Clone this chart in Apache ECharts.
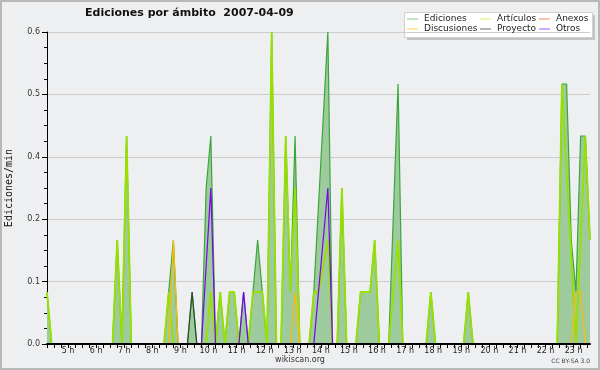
<!DOCTYPE html>
<html><head><meta charset="utf-8">
<script src="https://cdn.jsdelivr.net/npm/echarts@6/dist/echarts.min.js"></script>
<style>html,body{margin:0;padding:0;background:#eeeff1}#c{width:600px;height:370px}</style>
</head><body><div id="c"></div>
<script>
// 10-minute bins starting 04:15 (hours as decimals)
const startHour = 4.25;
const binCount = 117;
const times = [];
for (let i = 0; i < binCount; i++) times.push(startHour + i / 6);

const hourLabels = [5,6,7,8,9,10,11,12,13,14,15,16,17,18,19,20,21,22,23];
const yTickLabels = ['0.0','0.1','0.2','0.4','0.5','0.6'];

// values in edits/min, index = bin; null = no sample (line joins neighbours)
const ediciones = [
 0.1,0,0,0,0,0,0,0,0,0,           // 0-9
 0,0,0,0,0,0.2,0,0.4,0,0,         // 10-19
 0,0,0,0,0,0,0.1,0.2,0,0,         // 20-29
 0,0.1,0,0,0.3,0.4,0,0.1,0,0.1,   // 30-39
 0.1,0,0.1,0,0.1,0.2,0.1,0,0.6,0, // 40-49
 0,0.4,0.1,0.4,0,0,0,0.1,null,null, // 50-59
 0.6,0,0,0.3,0,0,0,0.1,0.1,0.1,   // 60-69
 0.2,0,0,0,null,0.5,0,0,0,0,      // 70-79
 0,0,0.1,0,0,0,0,0,0,0,           // 80-89
 0.1,0,0,0,0,0,0,0,0,0,           // 90-99
 0,0,0,0,0,0,0,0,0,0,             // 100-109
 0.5,0.5,0.2,0.1,0.4,0.4,0.2      // 110-116
];
const articulos = [
 0.1,0,0,0,0,0,0,0,0,0,
 0,0,0,0,0,0.2,0,0.4,0,0,
 0,0,0,0,0,0,0.1,0,0,0,
 0,0,0,0,0,0.1,0,0.1,0,0.1,
 0.1,0,0,0,0.1,0.1,0.1,0,0.6,0,
 0,0.4,0.1,0.3,0,0,0,0.1,0.1,null,
 0.2,0,0,0.3,0,0,0,0.1,0.1,0.1,
 0.2,0,0,0,null,0.2,0,0,0,0,
 0,0,0.1,0,0,0,0,0,0,0,
 0.1,0,0,0,0,0,0,0,0,0,
 0,0,0,0,0,0,0,0,0,0,
 0.5,null,null,0,null,0.4,0.2
];
const anexos = [
 0,0,0,0,0,0,0,0,0,0, 0,0,0,0,0,0,0,0,0,0, 0,0,0,0,0,0,0,0,0,0,
 0,0,0,0,0,0,0,0,0,0, 0,0,0,0,0,0,0,0,0,0, 0,0,0,0,0,0,0,0,0,0,
 0,0,0,0,0,0,0,0,0,0, 0,0,0,0,0,0,0,0,0,0, 0,0,0,0,0,0,0,0,0,0,
 0,0,0,0,0,0,0,0,0,0, 0,0,0,0,0,0,0,0,0,0, 0,0,0,0,0,0,0
];
const discusiones = [
 0,0,0,0,0,0,0,0,0,0, 0,0,0,0,0,0,0,0,0,0, 0,0,0,0,0,0,0,0.2,0,0,
 0,0,0,0,0,0,0,0,0,0, 0,0,0,0,0,0,0,0,0,0, 0,0,0,0.1,0,0,0,0,0,0,
 0,0,0,0,0,0,0,0,0,0, 0,0,0,0,0,0,0,0,0,0, 0,0,0,0,0,0,0,0,0,0,
 0,0,0,0,0,0,0,0,0,0, 0,0,0,0,0,0,0,0,0,0, 0,0,0,0.1,0.1,0,0
];
const proyecto = [
 0,0,0,0,0,0,0,0,0,0, 0,0,0,0,0,0,0,0,0,0, 0,0,0,0,0,0,0,0,0,0,
 0,0.1,0,0,0,0,0,0,0,0, 0,0,0,0,0,0,0,0,0,0, 0,0,0,0,0,0,0,0,0,0,
 0,0,0,0,0,0,0,0,0,0, 0,0,0,0,0,0,0,0,0,0, 0,0,0,0,0,0,0,0,0,0,
 0,0,0,0,0,0,0,0,0,0, 0,0,0,0,0,0,0,0,0,0, 0,0,0,0,0,0,0
];
const otros = [
 0,0,0,0,0,0,0,0,0,0, 0,0,0,0,0,0,0,0,0,0, 0,0,0,0,0,0,0,0,0,0,
 0,0,0,0,null,0.3,0,0,0,0, 0,0,0.1,0,0,0,0,0,0,0, 0,0,0,0,0,0,0,0,null,null,
 0.3,0,0,0,0,0,0,0,0,0, 0,0,0,0,0,0,0,0,0,0, 0,0,0,0,0,0,0,0,0,0,
 0,0,0,0,0,0,0,0,0,0, 0,0,0,0,0,0,0,0,0,0, 0,0,0,0,0,0,0
];

const seriesNames = ['Ediciones','Artículos','Anexos','Discusiones','Proyecto','Otros'];
const legendColors = ['#88cc88','#ccee66','#ee8855','#ffd050','#666666','#9955ee'];
const lineColors = ['#3aa63a','#99e000','#ee7733','#ffbb00','#2f4a2f','#7a00ee'];

const FONT = 'DejaVu Sans';
const pair = arr => arr.map((v, i) => [times[i], v]);
const seriesData = [ediciones, articulos, anexos, discusiones, proyecto, otros];

const series = seriesData.map((arr, k) => ({
  name: seriesNames[k], type: 'line', data: pair(arr), connectNulls: true,
  showSymbol: false, symbol: 'none', silent: true, z: 2 + k,
  lineStyle: { color: lineColors[k], width: k === 1 ? 1.8 : 1.2 },
  itemStyle: { color: lineColors[k] },
  areaStyle: k === 0 ? { color: '#9dcb9d', opacity: 1 } : undefined
}));

const tickValues = [];
for (let h = 4.25; h <= 23.5001; h += 0.25) tickValues.push(h);

function legendCol(names, left) {
  return {
    orient: 'vertical', left: left, top: 14, itemGap: 0, padding: 0,
    itemWidth: 11, itemHeight: 1, icon: 'rect',
    textStyle: { fontFamily: FONT, fontSize: 9, color: '#222', lineHeight: 10, padding: [0,0,0,1] },
    data: names.map(n => ({ name: n, itemStyle: { color: legendColors[seriesNames.indexOf(n)] } }))
  };
}

const chart = echarts.init(document.getElementById('c'), null, { renderer: 'canvas' });
chart.setOption({
  animation: false,
  backgroundColor: '#eeeff1',
  title: {
    text: 'Ediciones por ámbito  2007-04-09', left: 85, top: 8, padding: 0,
    textStyle: { fontFamily: FONT, fontSize: 11, fontWeight: 'bold', color: '#111' }
  },
  legend: [
    legendCol(['Ediciones','Discusiones'], 407),
    legendCol(['Artículos','Proyecto'], 480),
    legendCol(['Anexos','Otros'], 539)
  ],
  grid: { left: 47, right: 10, top: 32, bottom: 26, outerBoundsMode: 'none', containLabel: false },
  xAxis: {
    type: 'value', min: times[0], max: times[times.length - 1], z: 10,
    axisLine: { lineStyle: { color: '#000', width: 2 } },
    axisTick: { show: true, length: 4, customValues: tickValues, lineStyle: { color: '#000' } },
    axisLabel: {
      customValues: hourLabels, formatter: v => Math.round(v) + ' h',
      fontFamily: FONT, fontSize: 8, color: '#222', margin: 3
    },
    splitLine: { show: false }
  },
  yAxis: {
    type: 'value', min: 0, max: 0.6, interval: 0.12,
    name: 'Ediciones/min', nameLocation: 'middle', nameRotate: 90, nameGap: 33,
    nameTextStyle: { fontFamily: 'DejaVu Sans Mono', fontSize: 10, color: '#111' },
    axisLine: { show: true, lineStyle: { color: '#000', width: 1 } },
    axisTick: { show: true, length: 5, lineStyle: { color: '#000' } },
    minorTick: { show: true, splitNumber: 4, length: 3, lineStyle: { color: '#000' } },
    axisLabel: {
      formatter: v => yTickLabels[Math.round(v / 0.12)],
      fontFamily: FONT, fontSize: 8, color: '#333', margin: 7
    },
    splitLine: { show: true, lineStyle: { color: '#cccccc', width: 1 } }
  },
  graphic: [
    { type: 'rect', z: -1, shape: { x: 1, y: 1, width: 598, height: 368 }, style: { fill: null, stroke: '#b8b8b8', lineWidth: 2 } },
    { type: 'rect', z: 0, shape: { x: 407, y: 15, width: 188, height: 25 }, style: { fill: '#c4c4c4' } },
    { type: 'rect', z: 0, shape: { x: 404.5, y: 12.5, width: 188, height: 25 }, style: { fill: '#ffffff', stroke: '#d0d0d0', lineWidth: 1 } },
    { type: 'text', left: 'center', top: 356, style: { text: 'wikiscan.org', fontFamily: FONT, fontSize: 8, fill: '#333' } },
    { type: 'text', right: 10, top: 358, style: { text: 'CC BY-SA 3.0', fontFamily: FONT, fontSize: 6, fill: '#444' } }
  ],
  series: series
});
</script></body></html>
